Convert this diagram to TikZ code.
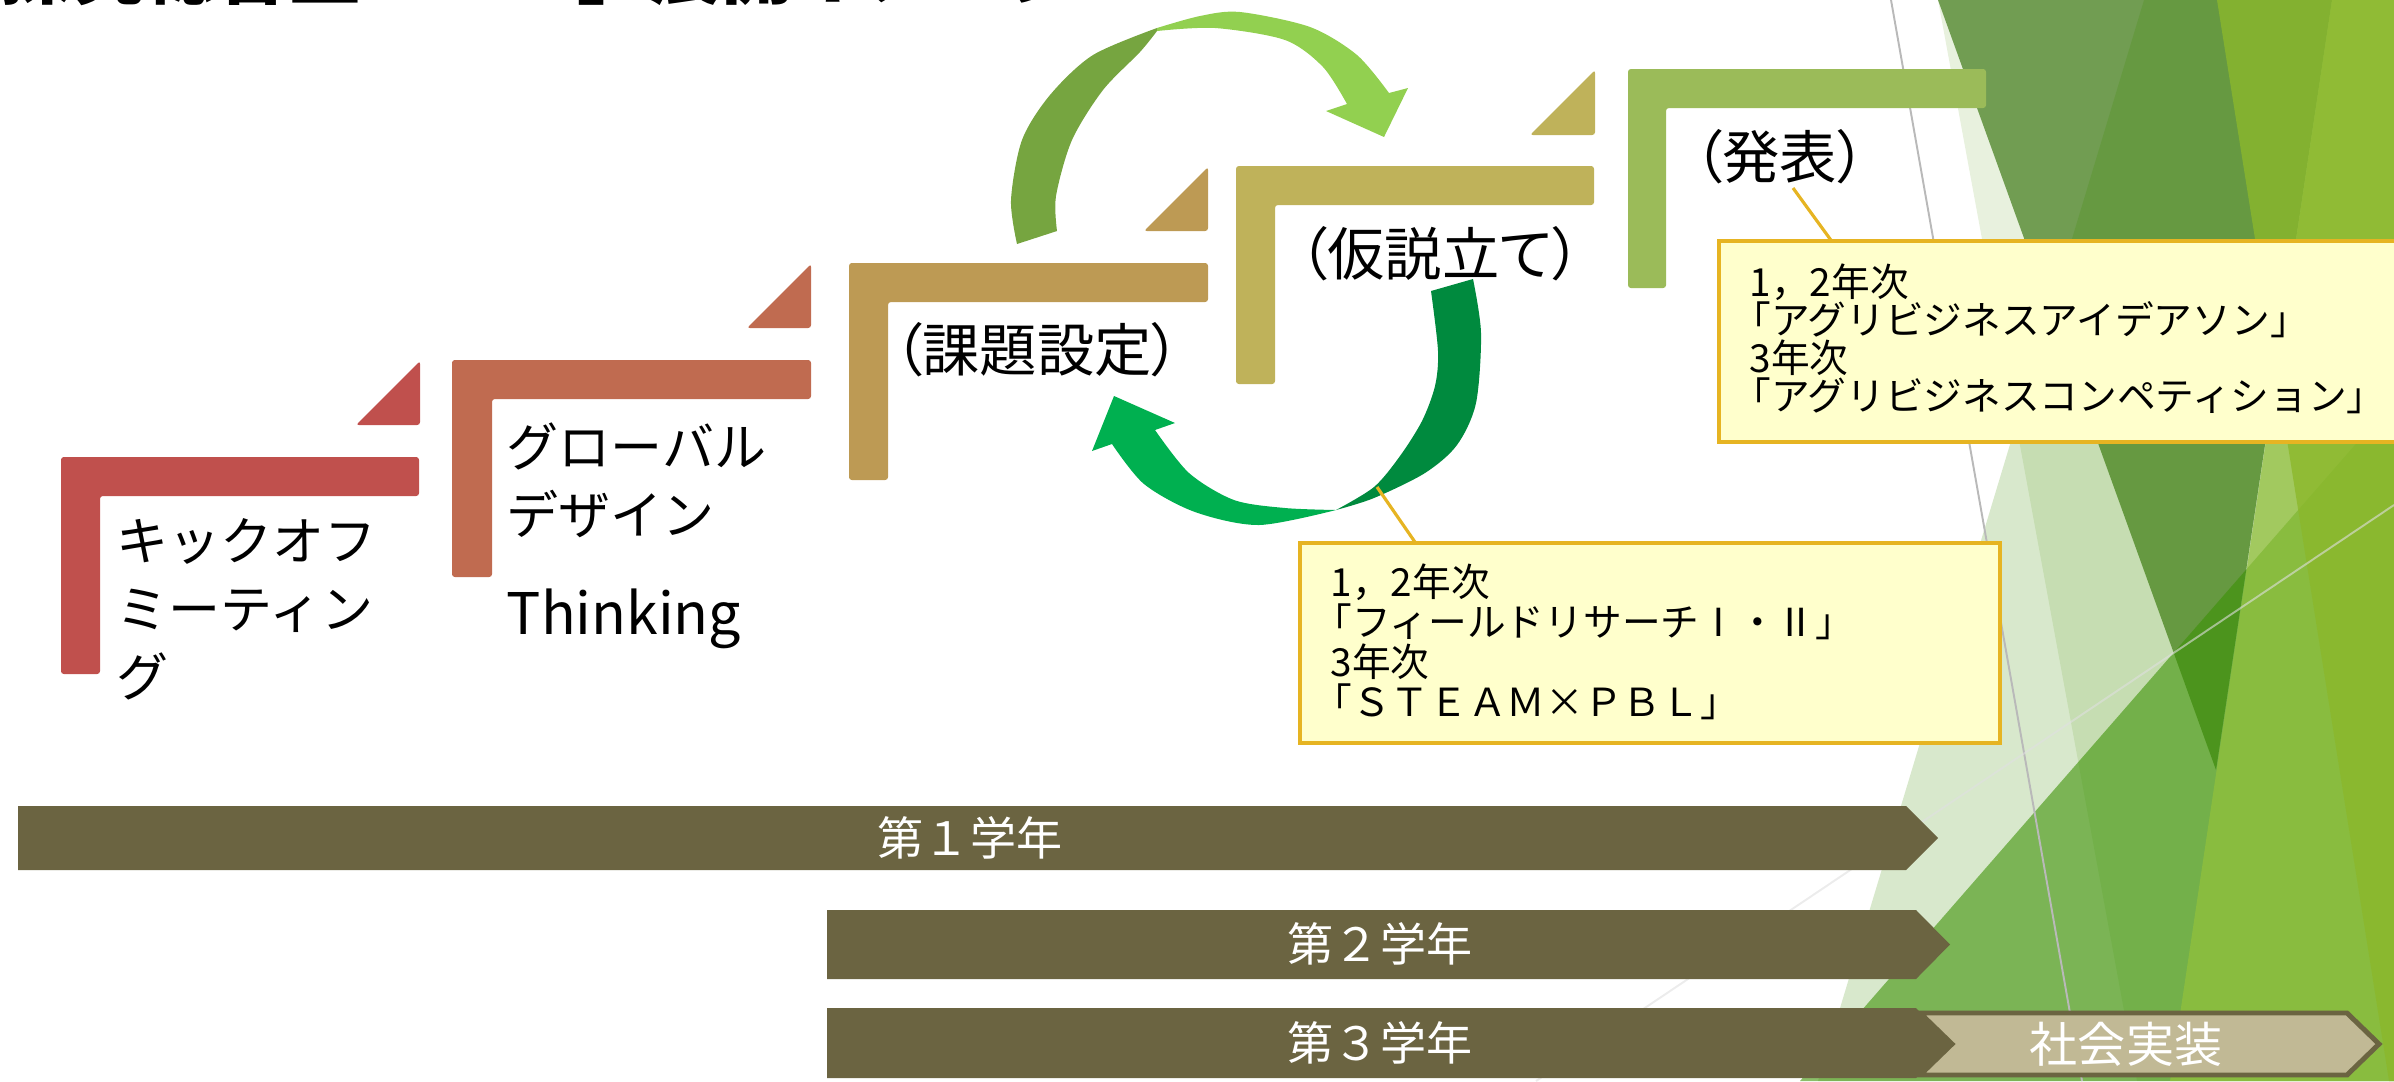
\documentclass[tikz,border=0pt]{standalone}
\usepackage{fontspec}
\setmainfont{Noto Sans CJK JP}
\newfontfamily\jpprop[RawFeature=+palt]{Noto Sans CJK JP}
\usetikzlibrary{calc}

\definecolor{stepA}{HTML}{C0504D}
\definecolor{stepB}{HTML}{C06B50}
\definecolor{stepC}{HTML}{BD9A54}
\definecolor{stepD}{HTML}{BFB25A}
\definecolor{stepE}{HTML}{9BBB59}
\definecolor{barcol}{HTML}{6B6441}
\definecolor{socfill}{HTML}{C1B995}
\definecolor{notefill}{HTML}{FFFFCC}
\definecolor{noteedge}{HTML}{E6B422}
\definecolor{upback}{HTML}{76A540}
\definecolor{upfront}{HTML}{92D050}
\definecolor{lowback}{HTML}{008A3E}
\definecolor{lowfront}{HTML}{00B050}
\definecolor{fctA}{RGB}{120,170,60}
\definecolor{fctB}{HTML}{719D52}
\definecolor{fctC}{RGB}{60,140,0}
\definecolor{fctD}{RGB}{60,146,5}
\definecolor{fctE}{RGB}{147,193,60}
\definecolor{fctF}{RGB}{139,184,44}

\newcommand\fsz[2]{\fontsize{#1}{#2}\selectfont}

\begin{document}
\begin{tikzpicture}[x=0.01cm,y=-0.01cm,
  stepshape/.style={rounded corners=0.8pt},
  flagshape/.style={rounded corners=0.8pt},
  yearbar/.style={fill=barcol},
  yeartext/.style={text=white, inner sep=0pt, font=\fsz{13.1}{15}},
  lbl/.style={anchor=north west, inner sep=0pt, align=left},
  bigkana/.style={lbl, font=\fsz{14.8}{19.35}},
  paren/.style={lbl, font=\jpprop\fsz{16.3}{18}},
  notebox/.style={fill=notefill, draw=noteedge, line width=1.1pt},
  notetext/.style={lbl, font=\fsz{11}{#1}},
  notelink/.style={draw=noteedge, line width=0.9pt},
  thinline/.style={line width=0.55pt}]

\useasboundingbox (0,0) rectangle (2394,1081);
\begin{scope}
\clip (0,0) rectangle (2394,1081);

% --- faceted green backdrop on the right
\fill[fctA, opacity=0.17] (1938,0) -- (2600,0) -- (2600,1081) -- (2137,1081) -- cycle;
\fill[fctB] (1938,0) -- (2332,0) -- (2216,770) -- cycle;
\fill[fctC, opacity=0.2] (2144,0) -- (2600,0) -- (2600,1081) -- (1818,1081) -- cycle;
\fill[fctD, opacity=0.6] (1800,1081) -- (2600,164) -- (2600,1081) -- cycle;
\fill[fctE, opacity=0.7] (2332,0) -- (2600,0) -- (2600,1081) -- (2170,1081) -- cycle;
\fill[fctF, opacity=0.8] (2217,0) -- (2600,0) -- (2600,1081) -- (2389,1081) -- cycle;
\draw[thinline, gray!55] (1891,0) -- (2082,1081);
\draw[thinline, white!75!gray, opacity=0.6] (1536,1081) -- (2394,505);

% --- title (runs off the top edge)
\node[anchor=base west, inner sep=0pt, font=\bfseries\fsz{20.5}{24}] (ttl) at (0,-2) {探究総合型「ＳＤ」展開イメージ};

% --- year bars
\fill[yearbar] (18,806) -- (1906,806) -- (1938,838) -- (1906,870) -- (18,870) -- cycle;
\node[yeartext] (yr1) at (970,838) {第１学年};
\fill[yearbar] (827,910) -- (1916,910) -- (1950,944.5) -- (1916,979) -- (827,979) -- cycle;
\node[yeartext] (yr2) at (1380,944) {第２学年};
\filldraw[fill=socfill, draw=barcol, line width=1.4pt] (1920,1013) -- (2347,1013) -- (2379,1044) -- (2347,1075) -- (1920,1075) -- (1952,1044) -- cycle;
\node[text=white, inner sep=0pt, font=\fsz{13.66}{16}] (soc) at (2126,1044) {社会実装};
\fill[yearbar] (827,1008) -- (1916,1008) -- (1950,1043) -- (1916,1078) -- (827,1078) -- cycle;
\node[yeartext] (yr3) at (1380,1043) {第３学年};

% --- stair steps
\fill[stepA, stepshape] (61,674) -- (61,457) -- (419,457) -- (419,496) -- (100,496) -- (100,674) -- cycle;
\fill[stepA, flagshape] (356,425) -- (420,425) -- (420,361) -- cycle;
\fill[stepB, stepshape] (452,577) -- (452,360) -- (811,360) -- (811,399) -- (492,399) -- (492,577) -- cycle;
\fill[stepB, flagshape] (747,328) -- (811,328) -- (811,264) -- cycle;
\fill[stepC, stepshape] (849,480) -- (849,263) -- (1208,263) -- (1208,302) -- (888,302) -- (888,480) -- cycle;
\fill[stepC, flagshape] (1144,231) -- (1208,231) -- (1208,167) -- cycle;
\fill[stepD, stepshape] (1236,384) -- (1236,166) -- (1594,166) -- (1594,205) -- (1275,205) -- (1275,384) -- cycle;
\fill[stepD, flagshape] (1530,135) -- (1595,135) -- (1595,70) -- cycle;
\fill[stepE, stepshape] (1628,288) -- (1628,69) -- (1986,69) -- (1986,108) -- (1666,108) -- (1666,288) -- cycle;

% --- step labels
\node[bigkana] (kick) at (116,518) {キックオフ\\ミーティン\\グ};
\node[bigkana] (glob) at (506,422) {グローバル\\デザイン};
\node[lbl, font=\fsz{16.3}{19}] (think) at (506,588) {Thinking};
\node[paren] (kadai) at (893,322) {（課題設定）};
\node[paren] (kasetsu) at (1298,226) {（仮説立て）};
\node[paren] (happyo) at (1693,129) {（発表）};

% --- upper curved arrow: shaded back, light front with head
\fill[upback] plot[smooth] coordinates {(1017,244) (1011,200) (1022,140) (1050,95) (1093,55) (1157,28)}
  -- plot[smooth] coordinates {(1157,31) (1140,52) (1103,90) (1072,140) (1056,196) (1057,231)} -- cycle;
\fill[upfront] plot[smooth] coordinates {(1157,28) (1200,16) (1240,12) (1310,27) (1357,55) (1389,93)}
  -- (1408,88) -- (1384,137) -- (1326,111)
  -- plot[smooth] coordinates {(1347,104) (1323,67) (1285,40) (1215,28) (1157,31)} -- cycle;

% --- lower curved arrow
\fill[lowback] plot[smooth] coordinates {(1473,279) (1481,333) (1476,403) (1457,445) (1425,473) (1374,498) (1336,510)}
  -- plot[smooth] coordinates {(1336,510) (1374,487) (1400,456) (1422,421) (1435,386) (1438,351) (1431,291)} -- cycle;
\fill[lowfront] plot[smooth] coordinates {(1336,510) (1259,525) (1195,512) (1144,484) (1112,444)}
  -- (1092,451) -- (1114,396) -- (1175,423)
  -- plot[smooth] coordinates {(1155,430) (1189,473) (1234,500) (1285,508) (1336,510)} -- cycle;

% --- callouts
\coordinate (lowA) at (1377,487);
\coordinate (lowB) at (1417,545);
\draw[notelink] (lowA) -- (lowB);
\coordinate (nbL1) at (1300,543);
\coordinate (nbL2) at (2000,743);
\draw[notebox] (nbL1) rectangle (nbL2);
\node[notetext=11.4] (noteL) at (1330,563) {1，2年次\\\hspace*{-0.45em}「フィールドリサーチⅠ・Ⅱ」\\3年次\\\hspace*{-0.45em}「ＳＴＥＡＭ×ＰＢＬ」};

\coordinate (upA) at (1793,188);
\coordinate (upB) at (1833,243);
\draw[notelink] (upA) -- (upB);
\coordinate (nbU1) at (1719,241);
\coordinate (nbU2) at (2420,442);
\draw[notebox] (nbU1) rectangle (nbU2);
\node[notetext=10.8] (noteU) at (1749,263) {1，2年次\\\hspace*{-0.45em}「アグリビジネスアイデアソン」\\3年次\\\hspace*{-0.45em}「アグリビジネスコンペティション」};
\end{scope}
\end{tikzpicture}
\end{document}
